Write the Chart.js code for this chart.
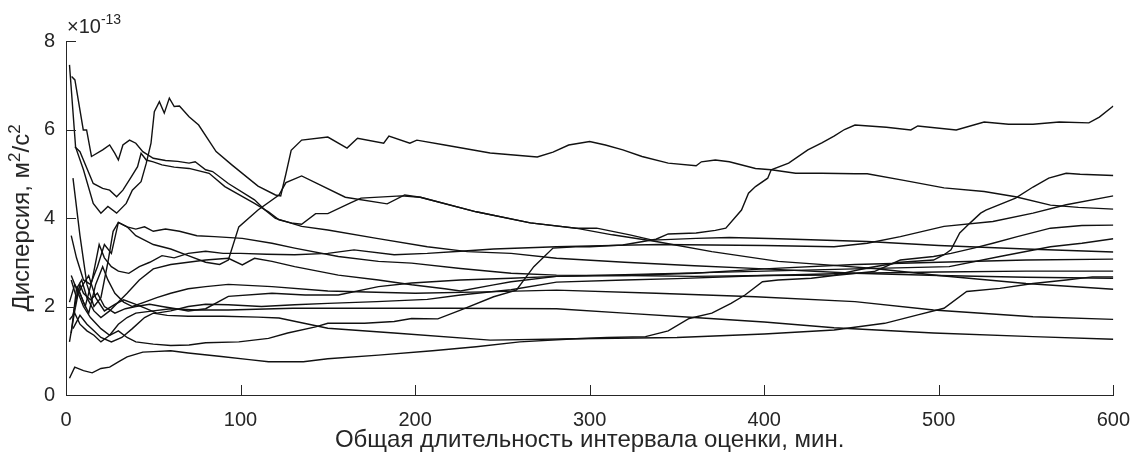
<!DOCTYPE html>
<html>
<head>
<meta charset="utf-8">
<script src="https://cdn.jsdelivr.net/npm/chart.js@4.4.0/dist/chart.umd.min.js"></script>
<style>
  html, body { margin: 0; padding: 0; background: #fff; }
  #wrap { width: 1143px; height: 461px; }
</style>
</head>
<body>
<div id="wrap"><canvas id="myChart" width="1143" height="461"></canvas></div>
<script>
// Оси
const xTicks = [0, 100, 200, 300, 400, 500, 600];
const yTicks = [0, 2, 4, 6, 8];
const xTitle = "Общая длительность интервала оценки, мин.";
// подпись оси Y по частям: [текст, надстрочный?]
const yTitleParts = [["Дисперсия, м", false], ["2", true], ["/с", false], ["2", true]];
const yExponent = "-13";

// Кривые, значения в единицах 1e-13 (x в минутах)
const series01 = [[2,7.46],[5.5,5.6],[10,5.09],[15.6,4.33],[20,4.11],[24,4.26],[29,4.11],[34.5,4.33],[38,4.63],[43,4.82],[46,5.24],[48.7,5.69],[50.6,6.4],[53.5,6.63],[56.3,6.37],[59.2,6.71],[62,6.52],[65,6.53],[70.5,6.29],[76,6.1],[86,5.5],[95,5.2],[110,4.72],[120,4.52],[123,4.5],[126,5.0],[129,5.53],[135,5.76],[150,5.83],[161,5.58],[167,5.8],[182,5.69],[185,5.85],[197,5.69],[201,5.76],[217,5.65],[243,5.47],[270,5.38],[279,5.49],[288,5.65],[300,5.73],[309,5.65],[319,5.54],[330,5.39],[345,5.24],[361,5.18],[364,5.27],[372,5.31],[380,5.27],[395,5.12],[404,5.09],[418,5.01],[433,5.01],[452,5.0],[459,5.0],[480,4.85],[503,4.68],[526,4.6],[544,4.48],[564,4.29],[580,4.24],[600,4.2]];
const series02 = [[3.2,7.2],[5.1,7.12],[9.9,5.99],[11.8,5.99],[14.6,5.39],[21,5.54],[25,5.65],[28,5.46],[30,5.31],[32.6,5.65],[36.4,5.76],[40,5.69],[44,5.5],[50,5.35],[57,5.3],[64,5.28],[70.5,5.24],[74,5.27],[80,5.09],[84,5.05],[93,4.78],[108,4.41],[114,4.18],[120,3.99],[135,3.81],[150,3.73],[178,3.54],[207,3.35],[230,3.24],[255,3.2],[281,3.09],[320,3.0],[360,2.92],[400,2.85],[452,2.75],[500,2.7],[550,2.66],[600,2.64]];
const series03 = [[5.1,5.61],[8,5.5],[15.6,4.78],[21,4.67],[25,4.63],[29,4.48],[32.6,4.63],[37.4,4.93],[41,5.16],[43,5.46],[46,5.31],[50,5.27],[55,5.2],[62,5.15],[70.5,5.12],[82,5.01],[91,4.71],[108,4.33],[116,4.14],[122,3.96],[130,3.88],[135,3.86],[143,4.1],[150,4.1],[163,4.34],[169,4.45],[192,4.5],[203,4.47],[235,4.14],[266,3.89],[292,3.77],[313,3.62],[338,3.47],[370,3.24],[408,3.02],[436,2.94],[463,2.86],[500,2.7],[550,2.52],[600,2.39]];
const series04 = [[4,4.9],[8,3.6],[12,2.5],[16,2.0],[20,2.2],[24,3.0],[27,3.7],[30,3.9],[35,3.8],[40,3.6],[45,3.5],[50,3.4],[60,3.3],[70,3.15],[80,3.0],[88,2.95],[93,3.05],[99,3.8],[110,4.18],[122,4.52],[126,4.8],[135,4.95],[160,4.47],[184,4.32],[194,4.52],[203,4.47],[235,4.14],[266,3.89],[292,3.77],[304,3.77],[323,3.62],[336,3.5],[361,3.54],[380,3.56],[408,3.53],[459,3.47],[500,3.38],[550,3.3],[600,3.23]];
const series05 = [[2,1.7],[5,1.85],[8,1.6],[12,1.45],[16,1.35],[20,1.2],[25,1.35],[30,1.45],[35,1.3],[40,1.2],[50,1.15],[60,1.12],[70.5,1.13],[80,1.18],[99,1.2],[116,1.28],[127,1.4],[143,1.54],[150,1.62],[171,1.62],[188,1.66],[198,1.73],[213,1.72],[226,1.92],[245,2.22],[258,2.37],[268,2.9],[279,3.32],[292,3.35],[300,3.35],[319,3.39],[338,3.52],[345,3.64],[361,3.66],[372,3.72],[378,3.77],[387,4.18],[391,4.56],[395,4.71],[402,4.9],[404,5.09],[414,5.24],[425,5.54],[433,5.7],[440,5.85],[446,6.0],[452,6.1],[470,6.05],[484,5.99],[488,6.08],[510,5.99],[526,6.17],[540,6.12],[554,6.12],[569,6.17],[586,6.15],[592,6.28],[600,6.53]];
const series06 = [[2,0.38],[5,0.63],[10,0.55],[15,0.5],[20,0.6],[25,0.63],[30,0.75],[35,0.86],[44,0.97],[50,0.98],[60,1.0],[70,0.95],[89,0.87],[105,0.8],[116,0.75],[136,0.75],[150,0.82],[179,0.9],[210,1.0],[235,1.09],[260,1.2],[292,1.27],[310,1.3],[332,1.32],[345,1.45],[357,1.73],[370,1.85],[381,2.07],[389,2.26],[399,2.56],[408,2.6],[427,2.64],[440,2.7],[463,2.79],[478,3.05],[497,3.13],[507,3.2],[520,3.32],[531,3.43],[545,3.58],[564,3.77],[582,3.83],[600,3.84]];
const series07 = [[4,1.5],[8,1.8],[12,1.6],[16,1.45],[20,1.3],[26,1.2],[32,1.3],[38,1.5],[45,1.75],[50,1.85],[58,1.8],[70,1.78],[90,1.78],[110,1.76],[122,1.74],[150,1.51],[188,1.4],[243,1.24],[292,1.27],[350,1.3],[400,1.38],[440,1.47],[469,1.62],[488,1.81],[503,1.96],[516,2.34],[535,2.41],[554,2.52],[573,2.6],[588,2.67],[600,2.67]];
const series08 = [[3,2.7],[6,2.4],[10,2.0],[14,1.75],[20,1.5],[25,1.35],[30,1.6],[35,1.75],[40,1.85],[50,1.9],[60,1.95],[75,1.92],[93,1.92],[130,1.96],[170,1.96],[220,1.96],[281,1.95],[320,1.85],[360,1.75],[400,1.65],[440,1.52],[497,1.4],[554,1.32],[600,1.26]];
const series09 = [[4,1.8],[7,2.4],[10,2.1],[13,1.85],[17,2.5],[21,2.9],[24,2.6],[28,2.3],[33,2.1],[38,2.0],[45,2.1],[52,2.2],[60,2.3],[70,2.4],[80,2.45],[93,2.5],[118,2.45],[150,2.35],[200,2.3],[240,2.33],[281,2.37],[338,2.3],[395,2.22],[452,2.11],[497,1.92],[554,1.77],[600,1.71]];
const series10 = [[3,3.6],[6,3.1],[10,2.6],[14,2.5],[18,2.9],[22,3.4],[26,3.2],[30,3.9],[35,3.8],[40,3.75],[45,3.8],[50,3.7],[57,3.75],[65,3.7],[75,3.6],[85,3.58],[101,3.54],[118,3.43],[131,3.32],[156,3.13],[179,3.02],[198,2.98],[226,2.86],[255,2.75],[281,2.71],[320,2.7],[360,2.68],[400,2.7],[440,2.71],[459,2.87],[478,3.0],[497,3.05],[503,3.17],[507,3.28],[512,3.66],[518,3.89],[524,4.11],[527,4.18],[544,4.45],[554,4.7],[563,4.9],[573,5.01],[581,4.99],[600,4.96]];
const series11 = [[2,2.1],[5,2.5],[8,2.3],[11,2.0],[15,2.6],[19,3.4],[22,3.1],[26,2.9],[30,2.8],[36,2.75],[42,2.9],[48,3.0],[55,3.15],[62,3.1],[70,3.2],[80,3.25],[90,3.2],[100,3.2],[115,3.18],[131,3.17],[150,3.2],[165,3.28],[188,3.17],[207,3.2],[226,3.25],[245,3.3],[281,3.35],[300,3.37],[340,3.4],[400,3.38],[440,3.35],[459,3.43],[478,3.58],[503,3.81],[531,3.92],[554,4.11],[573,4.3],[600,4.5]];
const series12 = [[3,1.4],[6,2.4],[9,2.6],[12,2.2],[16,1.9],[20,1.75],[25,1.9],[30,2.1],[35,2.3],[42,2.6],[50,2.85],[60,2.95],[70,3.0],[80,3.05],[93,3.09],[101,2.94],[108,3.09],[118,3.02],[131,2.9],[156,2.71],[179,2.6],[198,2.49],[217,2.4],[226,2.35],[245,2.49],[255,2.56],[281,2.68],[320,2.72],[360,2.76],[400,2.8],[452,2.85],[506,2.9],[535,3.13],[564,3.35],[582,3.43],[600,3.53]];
const series13 = [[2,1.2],[5,1.9],[8,2.5],[10,2.3],[14,2.15],[18,2.3],[22,2.0],[28,1.85],[34,1.95],[40,2.0],[48,2.05],[55,2.0],[63,1.95],[70,1.9],[80,1.95],[93,2.23],[118,2.3],[137,2.26],[156,2.26],[179,2.45],[198,2.53],[226,2.6],[255,2.64],[281,2.68],[320,2.7],[360,2.75],[400,2.85],[452,2.95],[500,3.0],[550,3.05],[600,3.07]];
const series14 = [[3,2.6],[6,2.2],[9,2.45],[13,2.7],[17,2.2],[22,1.9],[28,2.05],[33,2.15],[40,2.05],[46,1.95],[52,1.85],[60,1.9],[70,2.0],[80,2.05],[93,2.04],[112,2.0],[131,2.04],[150,2.07],[178,2.11],[207,2.16],[226,2.26],[245,2.34],[255,2.38],[281,2.55],[320,2.6],[350,2.63],[400,2.7],[452,2.75],[500,2.78],[550,2.8],[600,2.8]];

const allSeries = [series01, series02, series03, series04, series05, series06, series07,
                   series08, series09, series10, series11, series12, series13, series14];

const fontFamily = "'Liberation Sans', Arial, Helvetica, sans-serif";
const axisColor = '#262626';
const tickFontSize = 20;
const titleFontSize = 24;

// Засечки внутрь, подпись оси Y с индексами и множитель ×10^-13, как в MATLAB
const matlabAxes = {
    id: 'matlabAxes',
    afterDraw(chart) {
        const ctx = chart.ctx;
        const xs = chart.scales.x;
        const ys = chart.scales.y;
        const area = chart.chartArea;
        ctx.save();
        ctx.strokeStyle = axisColor;
        ctx.lineWidth = 1;
        ctx.beginPath();
        xTicks.forEach(v => {
            const px = Math.round(xs.getPixelForValue(v)) + 0.5;
            ctx.moveTo(px, area.bottom);
            ctx.lineTo(px, area.bottom - 10);
        });
        yTicks.forEach(v => {
            const py = Math.round(ys.getPixelForValue(v)) + 0.5;
            ctx.moveTo(area.left, py);
            ctx.lineTo(area.left + 10, py);
        });
        ctx.stroke();

        // множитель над осью Y
        ctx.fillStyle = axisColor;
        ctx.textBaseline = 'alphabetic';
        ctx.textAlign = 'left';
        ctx.font = '20px ' + fontFamily;
        const x0 = area.left + 1;
        const base = area.top - 8;
        ctx.fillText('×10', x0, base);
        const w = ctx.measureText('×10').width;
        ctx.font = '14px ' + fontFamily;
        ctx.fillText(yExponent, x0 + w, base - 9);

        // подпись оси Y (повёрнута)
        const mainFont = titleFontSize + 'px ' + fontFamily;
        const supFont = Math.round(titleFontSize * 0.72) + 'px ' + fontFamily;
        let total = 0;
        yTitleParts.forEach(p => {
            ctx.font = p[1] ? supFont : mainFont;
            total += ctx.measureText(p[0]).width;
        });
        ctx.translate(29, (area.top + area.bottom) / 2);
        ctx.rotate(-Math.PI / 2);
        let cx = -total / 2;
        yTitleParts.forEach(p => {
            ctx.font = p[1] ? supFont : mainFont;
            ctx.fillText(p[0], cx, p[1] ? -9 : 0);
            cx += ctx.measureText(p[0]).width;
        });
        ctx.restore();
    }
};

document.addEventListener("DOMContentLoaded", function () {
    const ctx = document.getElementById('myChart').getContext('2d');
    const datasets = allSeries.map((s, i) => ({
        label: 'series' + (i + 1),
        data: s.map(p => ({ x: p[0], y: p[1] })),
        borderColor: '#111111',
        borderWidth: 1.4,
        pointRadius: 0,
        tension: 0,
        fill: false
    }));

    new Chart(ctx, {
        type: 'line',
        data: { datasets: datasets },
        options: {
            responsive: false,
            animation: false,
            devicePixelRatio: 1,
            layout: { padding: { top: 41, right: 22, left: 0, bottom: 0 } },
            plugins: {
                legend: { display: false },
                tooltip: { enabled: false }
            },
            scales: {
                x: {
                    type: 'linear',
                    min: 0,
                    max: 600,
                    grid: { display: false, drawTicks: false },
                    border: { display: true, color: axisColor, width: 1 },
                    ticks: {
                        stepSize: 100,
                        color: axisColor,
                        padding: 13,
                        maxRotation: 0,
                        font: { family: fontFamily, size: tickFontSize }
                    },
                    title: {
                        display: true,
                        text: xTitle,
                        color: axisColor,
                        padding: { top: 0, bottom: 6 },
                        font: { family: fontFamily, size: titleFontSize }
                    },
                    afterFit(scale) { scale.height = 66; }
                },
                y: {
                    type: 'linear',
                    min: 0,
                    max: 8,
                    grid: { display: false, drawTicks: false },
                    border: { display: true, color: axisColor, width: 1 },
                    ticks: {
                        stepSize: 2,
                        color: axisColor,
                        padding: 11,
                        font: { family: fontFamily, size: tickFontSize }
                    },
                    title: { display: false },
                    afterFit(scale) { scale.width = 66; }
                }
            }
        },
        plugins: [matlabAxes]
    });
});
</script>
</body>
</html>
